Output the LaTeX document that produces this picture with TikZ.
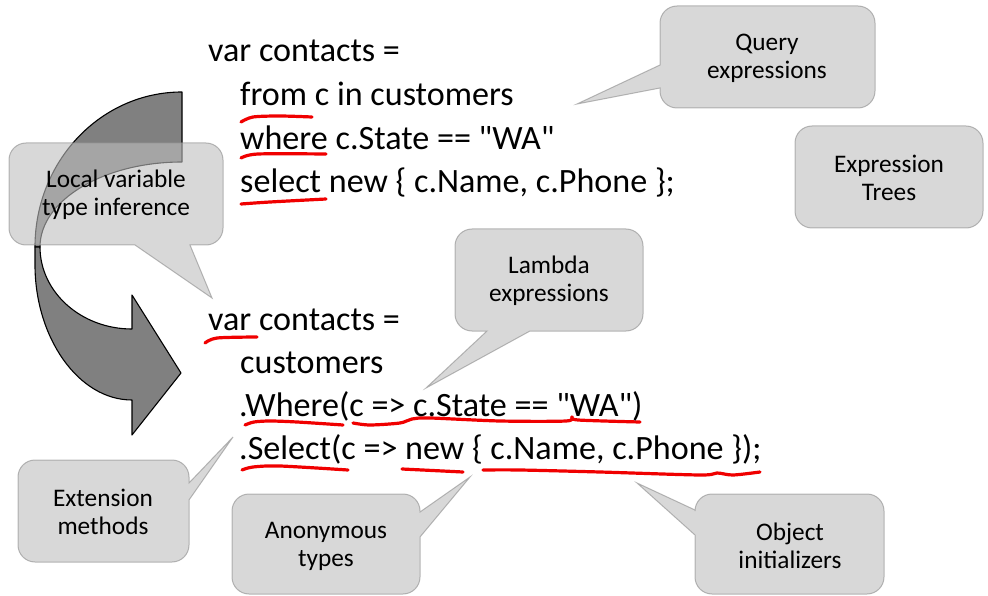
\documentclass[tikz,border=0pt]{standalone}
\usepackage{fontspec}
\setmainfont{Carlito}
\newfontfamily\codefont{Carlito}
\definecolor{arrowgray}{HTML}{808080}
\definecolor{ulred}{HTML}{F00000}
\tikzset{
  co/.style={fill=black!25, fill opacity=0.6, draw=black!45, draw opacity=0.6, line width=1},
  cotext/.style={align=center, inner sep=0, font=\fontsize{25.3}{28}\selectfont, text=black},
  code/.style={anchor=base west, inner sep=0, font=\codefont\fontsize{34.1}{40}\selectfont, text=black},
  arrowpart/.style={fill=arrowgray, draw=black, line width=1.1, line join=round},
  ul/.style={draw=ulred, line width=3.2, line cap=round, line join=round},
}
\begin{document}
\begin{tikzpicture}[x=1pt,y=-1pt]
\useasboundingbox (0,0) rectangle (988,596);
\fill[white] (0,0) rectangle (988,596);

% curved arrow: back part and front part
\path[arrowpart] (182,92) .. controls (101,92) and (35,161) .. (35,247) -- (40,247)
   .. controls (40,200) and (104,162) .. (182,162) -- cycle;
\path[arrowpart] (35,247) -- (35,265) .. controls (35,337) and (78,400) .. (132,400)
   -- (132,435) -- (181,373) -- (132,295) -- (132,329)
   .. controls (81,329) and (40,292) .. (40,247) -- cycle;

% callouts
% Query expressions
\path[co] (677,6) -- (858,6) arc[start angle=-90,end angle=0,radius=17] -- (875,91)
   arc[start angle=0,end angle=90,radius=17] -- (677,108)
   arc[start angle=90,end angle=180,radius=17] -- (660,88) -- (577,104) -- (660,65) -- (660,23)
   arc[start angle=180,end angle=270,radius=17] -- cycle;
% Expression Trees
\path[co] (812,126) -- (966,126) arc[start angle=-90,end angle=0,radius=17] -- (983,211)
   arc[start angle=0,end angle=90,radius=17] -- (812,228)
   arc[start angle=90,end angle=180,radius=17] -- (795,143)
   arc[start angle=180,end angle=270,radius=17] -- cycle;
% Local variable type inference
\path[co] (26,143) -- (206,143) arc[start angle=-90,end angle=0,radius=17] -- (223,228)
   arc[start angle=0,end angle=90,radius=17] -- (190,245) -- (212,298) -- (135,245) -- (26,245)
   arc[start angle=90,end angle=180,radius=17] -- (9,160)
   arc[start angle=180,end angle=270,radius=17] -- cycle;
% Lambda expressions
\path[co] (472,229) -- (626,229) arc[start angle=-90,end angle=0,radius=17] -- (643,314)
   arc[start angle=0,end angle=90,radius=17] -- (530,331) -- (426,388) -- (487,331) -- (472,331)
   arc[start angle=90,end angle=180,radius=17] -- (455,246)
   arc[start angle=180,end angle=270,radius=17] -- cycle;
% Extension methods
\path[co] (35,460) -- (172,460) arc[start angle=-90,end angle=0,radius=17] -- (189,483)
   -- (233,437) -- (189,500) -- (189,545)
   arc[start angle=0,end angle=90,radius=17] -- (35,562)
   arc[start angle=90,end angle=180,radius=17] -- (18,477)
   arc[start angle=180,end angle=270,radius=17] -- cycle;
% Anonymous types
\path[co] (249,494) -- (403,494) arc[start angle=-90,end angle=0,radius=17] -- (420,512)
   -- (470,477) -- (420,537) -- (420,577)
   arc[start angle=0,end angle=90,radius=17] -- (249,594)
   arc[start angle=90,end angle=180,radius=17] -- (232,511)
   arc[start angle=180,end angle=270,radius=17] -- cycle;
% Object initializers
\path[co] (712,494) -- (867,494) arc[start angle=-90,end angle=0,radius=17] -- (884,577)
   arc[start angle=0,end angle=90,radius=17] -- (712,594)
   arc[start angle=90,end angle=180,radius=17] -- (695,535) -- (637,483) -- (695,510) -- (695,511)
   arc[start angle=180,end angle=270,radius=17] -- cycle;

\node[cotext] (query) at (767,58) {Query\\expressions};
\node[cotext] (trees) at (889,178) {Expression\\Trees};
\node[cotext] (local) at (116,195) {Local variable\\type inference};
\node[cotext] (lambda) at (549,281) {Lambda\\expressions};
\node[cotext] (ext) at (103,512) {Extension\\methods};
\node[cotext] (anon) at (326,546) {Anonymous\\types};
\node[cotext] (obj) at (790,546) {Object\\initializers};

% red underlines
\draw[ul] plot[smooth] coordinates {(241,122) (253,117) (280,116) (312,117)};
\draw[ul] plot[smooth] coordinates {(241,158) (258,154) (326,154)};
\draw[ul] plot[smooth] coordinates {(241,204) (270,202) (326,199)};
\draw[ul] plot[smooth] coordinates {(205,343) (217,338) (257,337)};
\draw[ul] plot[smooth] coordinates {(245,425) (254,422) (270,421) (297,422) (343,425)};
\draw[ul] plot[smooth] coordinates {(353,423) (370,425) (400,423) (412,419) (430,418) (500,421) (566,421) (572,417) (578,420) (640,422)};
\draw[ul] plot[smooth] coordinates {(242,470) (253,467) (280,466) (348,470)};
\draw[ul] plot[smooth] coordinates {(402,469) (463,472)};
\draw[ul] plot[smooth] coordinates {(483,470) (520,470) (600,472) (700,475) (717,473) (733,475) (760,472)};

% code
\node[code] (t1) at (208,62) {var contacts =};
\node[code] (t2) at (240,106) {from c in customers};
\node[code] (t3) at (240,150) {where c.State == "WA"};
\node[code] (t4) at (240,193) {select new \{ c.Name, c.Phone \};};
\node[code] (b1) at (208,330) {var contacts =};
\node[code] (b2) at (240,373) {customers};
\node[code] (b3) at (239,416) {.Where(c => c.State == "WA")};
\node[code] (b4) at (239,459) {.Select(c => new \{ c.Name, c.Phone \});};
\end{tikzpicture}
\end{document}
